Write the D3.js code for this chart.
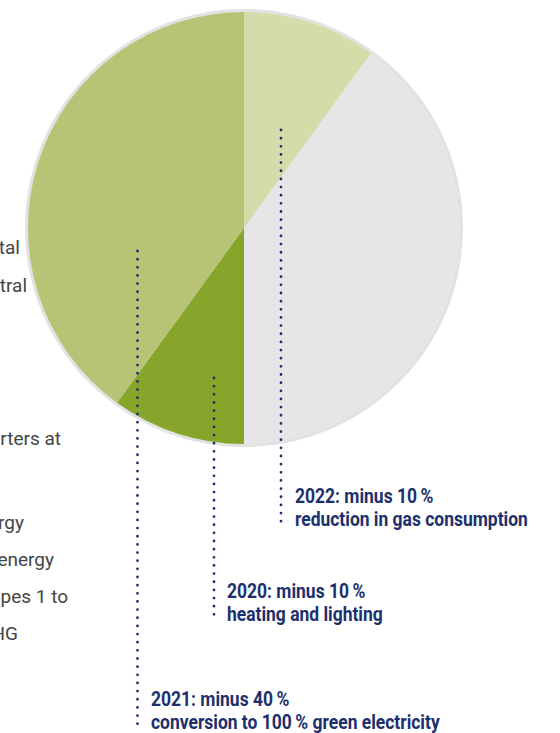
<!DOCTYPE html>
<html>
<head>
<meta charset="utf-8">
<script src="https://cdn.jsdelivr.net/npm/d3@7/dist/d3.min.js"></script>
<style>
  html, body { margin: 0; padding: 0; background: #fff; }
  svg { display: block; }
</style>
</head>
<body>
<svg id="chart" width="560" height="733"></svg>
<script>
// ---- data ----
const categories = ["2022 gas reduction", "remaining", "2020 heating and lighting", "2021 green electricity"];
const values = [10, 40, 10, 40];
const sliceColors = ["#d4dca9", "#e6e6e6", "#87a52a", "#b7c375"];

const labelTitles = ["2022: minus 10\u2009%", "2020: minus 10\u2009%", "2021: minus 40\u2009%"];
const labelTexts = ["reduction in gas consumption", "heating and lighting", "conversion to 100\u2009% green electricity"];
const labelSlice = [0, 2, 3];

const sideTexts = ["in total", "climate neutral", "headquarters at", "energy", "renewable energy", "scopes 1 to", "GHG"];

// ---- layout ----
const cx = 244, cy = 228, R = 216;
const anchors = [
  { x: 281, y1: 130, y2: 524, lx: 295, ly: 503 },
  { x: 214, y1: 378, y2: 619, lx: 227, ly: 598 },
  { x: 137.5, y1: 251, y2: 731, lx: 151, ly: 706 }
];
const sidePos = [
  { x: 20, y: 254 }, { x: 27, y: 292 }, { x: 61, y: 445 },
  { x: 24, y: 529 }, { x: 54, y: 566 }, { x: 68, y: 603 }, { x: 18, y: 640 }
];

const svg = d3.select("#chart");
const navy = "#1d306d";

// side texts (cut off at the left edge, as in the reference)
svg.append("g").selectAll("text").data(sideTexts).join("text")
  .attr("x", (d, i) => sidePos[i].x)
  .attr("y", (d, i) => sidePos[i].y)
  .attr("text-anchor", "end")
  .attr("font-family", "Roboto, sans-serif")
  .attr("font-size", 19)
  .attr("fill", "#444")
  .text(d => d);

// pie
const g = svg.append("g").attr("transform", `translate(${cx},${cy})`);
g.append("circle").attr("r", R + 3).attr("fill", "#e2e2e2");
const pie = d3.pie().sort(null).value(d => d)(values);
const arc = d3.arc().innerRadius(0).outerRadius(R);
g.selectAll("path").data(pie).join("path")
  .attr("d", arc)
  .attr("fill", (d, i) => sliceColors[i]);

// dotted leader lines
svg.append("g").selectAll("line").data(anchors).join("line")
  .attr("x1", d => d.x).attr("x2", d => d.x)
  .attr("y1", d => d.y1).attr("y2", d => d.y2)
  .attr("stroke", navy)
  .attr("stroke-width", 2.8)
  .attr("stroke-linecap", "round")
  .attr("stroke-dasharray", "0 8.15");

// labels
const lg = svg.append("g").selectAll("g").data(labelSlice).join("g");
lg.each(function(s, i) {
  const grp = d3.select(this);
  grp.append("text").attr("y", 0).text(labelTitles[i]);
  grp.append("text").attr("y", 23).text(labelTexts[i]);
  grp.selectAll("text")
    .attr("font-family", "Roboto, sans-serif")
    .attr("font-weight", 700)
    .attr("font-size", 19.5)
    .attr("fill", navy);
});
// condense labels to match reference width
const refNode = lg.filter((d, i) => i === 0).select("text:nth-child(2)").node();
const w = refNode.getComputedTextLength();
const sx = 233 / w;
lg.attr("transform", (d, i) => `translate(${anchors[i].lx},${anchors[i].ly}) scale(${sx},1)`);
</script>
</body>
</html>
